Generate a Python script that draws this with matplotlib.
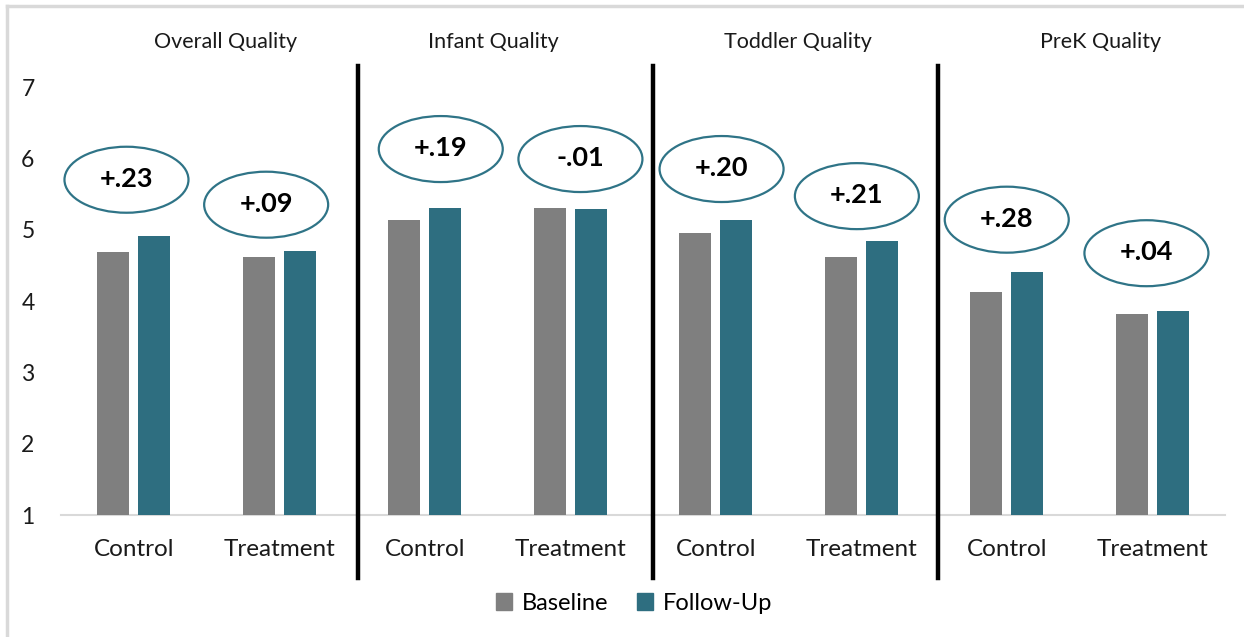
import matplotlib
matplotlib.use("Agg")
import matplotlib.pyplot as plt
from matplotlib.patches import Ellipse, Rectangle
from matplotlib.lines import Line2D
import numpy as np

# ---- data -------------------------------------------------------------
panels = ["Overall Quality", "Infant Quality", "Toddler Quality", "PreK Quality"]
groups = ["Control", "Treatment"] * 4
baseline = [4.69, 4.61, 5.13, 5.30, 4.95, 4.62, 4.12, 3.82]
follow_up = [4.91, 4.70, 5.31, 5.29, 5.14, 4.84, 4.40, 3.86]
change_labels = ["+.23", "+.09", "+.19", "-.01", "+.20", "+.21", "+.28", "+.04"]
y_ticks = [1, 2, 3, 4, 5, 6, 7]

# ---- layout -----------------------------------------------------------
GREY = "#7F7F7F"
TEAL = "#2E6E80"
RING = "#2F7487"
FONT = "Lato"

# bubble centre offsets (dx in category units, dy above taller bar)
bubble_dx = [-0.05, -0.09, 0.11, 0.07, 0.04, -0.03, 0.00, -0.04]
bubble_dy = [0.79, 0.65, 0.82, 0.69, 0.71, 0.63, 0.74, 0.81]
separators = [1.54, 3.57, 5.53]

W, H = 1244, 637
fig = plt.figure(figsize=(W / 100, H / 100), dpi=100)
fig.patch.set_facecolor("white")

ax_l, ax_r = 61, 1225
ax_top, ax_bot = 87, 515
ax = fig.add_axes([ax_l / W, 1 - ax_bot / H, (ax_r - ax_l) / W, (ax_bot - ax_top) / H])

x = np.arange(len(groups))
bw = 0.22
off = 0.1425
ax.bar(x - off, np.array(baseline) - 1, bw, bottom=1, color=GREY, label="Baseline", zorder=2)
ax.bar(x + off, np.array(follow_up) - 1, bw, bottom=1, color=TEAL, label="Follow-Up", zorder=2)

ax.set_xlim(-0.5, len(groups) - 0.5)
ax.set_ylim(1, 7)
ax.set_yticks(y_ticks)
ax.set_yticklabels([str(t) for t in y_ticks], fontsize=16.5, family=FONT, color="#1a1a1a")
ax.set_xticks(x)
ax.set_xticklabels(groups, fontsize=17.5, family=FONT, color="#1a1a1a")
ax.tick_params(axis="both", length=0)
ax.tick_params(axis="y", pad=19)
ax.tick_params(axis="x", pad=17)
for s in ["top", "right", "left"]:
    ax.spines[s].set_visible(False)
ax.spines["bottom"].set_color("#D9D9D9")
ax.spines["bottom"].set_linewidth(1.5)
ax.spines["bottom"].set_zorder(1)

# change bubbles
px_per_x = (ax_r - ax_l) / len(groups)
px_per_y = (ax_bot - ax_top) / 6.0
for i, lab in enumerate(change_labels):
    cx = x[i] + bubble_dx[i]
    cy = max(baseline[i], follow_up[i]) + bubble_dy[i]
    ell = Ellipse((cx, cy), 124 / px_per_x, 66 / px_per_y, facecolor="white",
                  edgecolor=RING, linewidth=1.6, clip_on=False, zorder=4)
    ax.add_patch(ell)
    ax.text(cx, cy + 0.01, lab, ha="center", va="center", fontsize=19.5,
            fontweight="bold", family=FONT, color="black", zorder=5, clip_on=False)

# panel dividers
for sx in separators:
    ax.add_line(Line2D([sx, sx], [1 + (515 - 66) / px_per_y, 1 - (578 - 515) / px_per_y],
                       color="black", linewidth=3.2, clip_on=False, zorder=6))

# panel titles
title_px = [226, 493, 798, 1101]
for name, tx in zip(panels, title_px):
    fig.text(tx / W, 1 - 42 / H, name, ha="center", va="center", fontsize=15.5,
             family=FONT, color="#1a1a1a")

# legend
handles = [Rectangle((0, 0), 1, 1, color=GREY), Rectangle((0, 0), 1, 1, color=TEAL)]
fig.legend(handles, ["Baseline", "Follow-Up"], loc="center",
           bbox_to_anchor=(634 / W, 1 - 603 / H),
           ncol=2, frameon=False, prop={"family": FONT, "size": 17}, handlelength=0.7,
           handleheight=0.7, handletextpad=0.4, columnspacing=1.2)

# outer frame edges
fig.add_artist(Line2D([7 / W, 1], [1 - 6 / H, 1 - 6 / H], color="#D9D9D9", linewidth=2.5))
fig.add_artist(Line2D([7 / W, 7 / W], [0, 1 - 6 / H], color="#D9D9D9", linewidth=2.5))

fig.savefig("out.png", dpi=100, facecolor="white")
